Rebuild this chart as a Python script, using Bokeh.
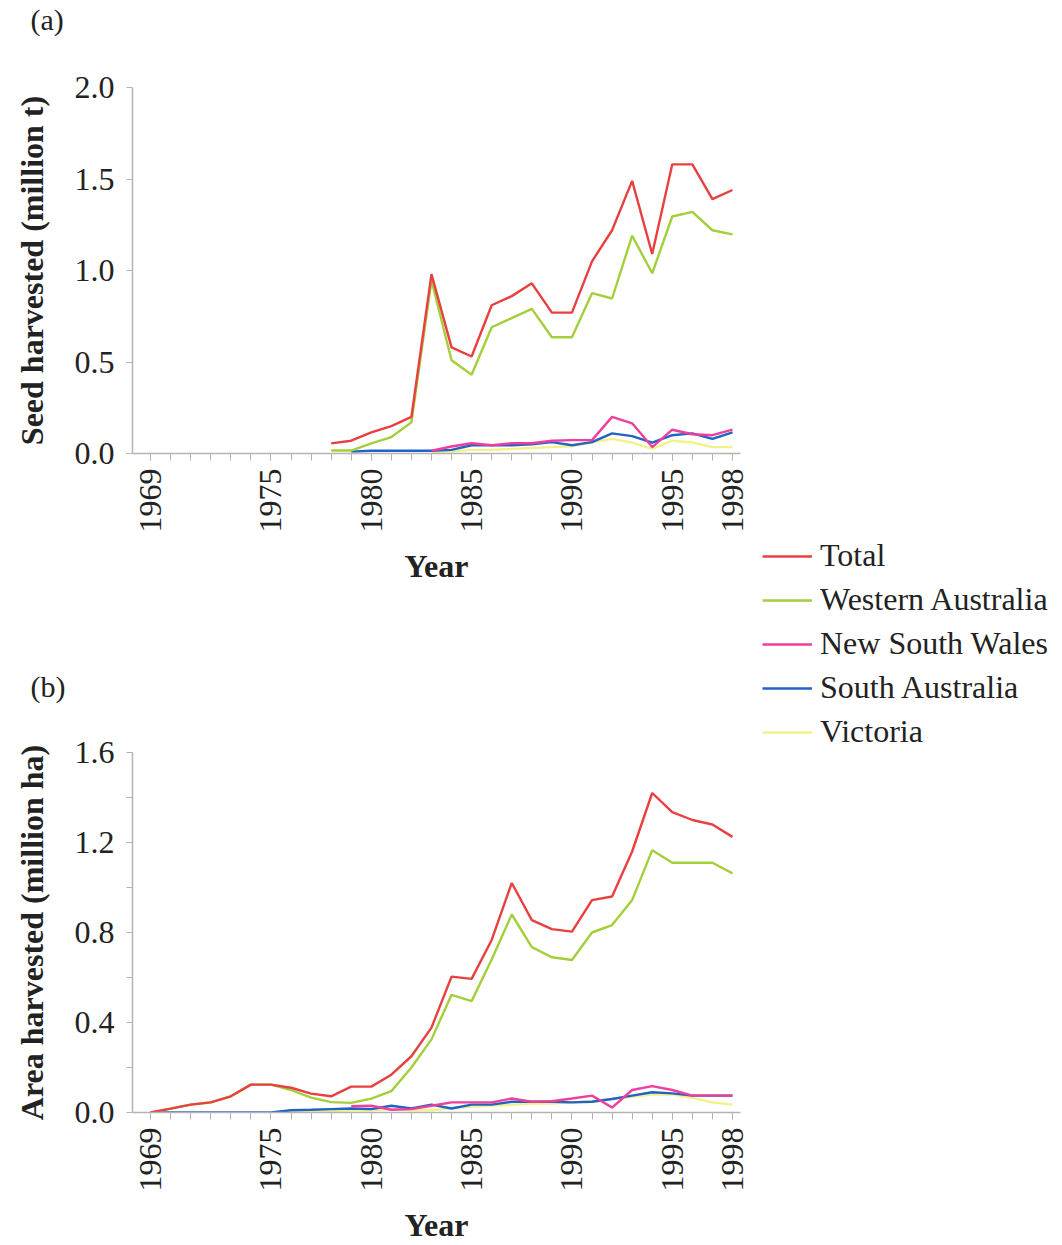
import math
import numpy as np
from bokeh.plotting import figure
from bokeh.layouts import row, column
from bokeh.models import (FixedTicker, PrintfTickFormatter, Legend, LegendItem,
                          ColumnDataSource)
from bokeh.embed import file_html
from bokeh.resources import INLINE

nan = np.nan

# Harvest years
years = list(range(1969, 1999))
year_labels = [1969, 1975, 1980, 1985, 1990, 1995, 1998]

# (a) Seed harvested, million t
seed_total = [nan] * 9 + [0.055, 0.07, 0.115, 0.15, 0.20, 0.98, 0.58, 0.53, 0.81, 0.86, 0.93,
                          0.77, 0.77, 1.05, 1.22, 1.49, 1.09, 1.58, 1.58, 1.39, 1.44]
seed_wa = [nan] * 9 + [0.016, 0.016, 0.055, 0.09, 0.17, 0.945, 0.51, 0.43, 0.69, 0.74, 0.79,
                       0.635, 0.635, 0.876, 0.847, 1.19, 0.985, 1.295, 1.32, 1.22, 1.197]
seed_nsw = [nan] * 14 + [0.015, 0.038, 0.056, 0.045, 0.056, 0.056, 0.07, 0.073, 0.073, 0.2,
                         0.165, 0.035, 0.13, 0.105, 0.1, 0.13]
seed_sa = [nan] * 10 + [0.01, 0.015, 0.015, 0.015, 0.015, 0.02, 0.045, 0.045, 0.045, 0.05,
                        0.062, 0.045, 0.062, 0.11, 0.095, 0.06, 0.1, 0.11, 0.08, 0.116]
seed_vic = [nan] * 14 + [0.005, 0.01, 0.02, 0.02, 0.025, 0.03, 0.035, 0.04, 0.06, 0.08,
                         0.06, 0.025, 0.07, 0.06, 0.035, 0.035]

# (b) Area harvested, million ha
area_total = [0.0, 0.017, 0.035, 0.045, 0.072, 0.124, 0.124, 0.11, 0.084, 0.072, 0.115, 0.115,
              0.168, 0.25, 0.377, 0.604, 0.594, 0.767, 1.02, 0.855, 0.815, 0.804, 0.944, 0.96,
              1.16, 1.42, 1.335, 1.30, 1.28, 1.225]
area_wa = [0.0, 0.017, 0.035, 0.045, 0.072, 0.124, 0.124, 0.10, 0.066, 0.046, 0.043, 0.062,
           0.095, 0.2, 0.325, 0.523, 0.495, 0.68, 0.88, 0.735, 0.69, 0.678, 0.80, 0.833,
           0.944, 1.166, 1.11, 1.11, 1.11, 1.063]
area_nsw = [nan] * 10 + [0.028, 0.03, 0.012, 0.015, 0.03, 0.045, 0.045, 0.045, 0.062, 0.048,
                         0.05, 0.062, 0.075, 0.022, 0.10, 0.117, 0.10, 0.075, 0.075, 0.075]
area_sa = [0.0] * 7 + [0.01, 0.012, 0.015, 0.018, 0.015, 0.03, 0.018, 0.035, 0.018, 0.035,
                       0.035, 0.048, 0.048, 0.048, 0.045, 0.048, 0.06, 0.075, 0.09, 0.085,
                       0.075, 0.075, 0.075]
area_vic = [nan] * 6 + [0.0, 0.005, 0.005, 0.005, 0.01, 0.01, 0.015, 0.01, 0.01, 0.02, 0.025,
                        0.03, 0.035, 0.04, 0.04, 0.045, 0.05, 0.06, 0.07, 0.08, 0.08, 0.065,
                        0.045, 0.035]

series_names = ["Total", "Western Australia", "New South Wales", "South Australia", "Victoria"]
series_colors = ["#e8403f", "#a3cf3b", "#ee3f9c", "#2062c6", "#f2f28a"]

SERIF = "Liberation Serif"
INK = "#222222"
AXIS_GREY = "#b4b4b4"
PANEL_W = 760


def blank_figure(width, height, **kw):
    p = figure(width=width, height=height, x_range=(0, 1), y_range=(0, 1),
               output_backend="svg", toolbar_location=None, **kw)
    p.axis.visible = False
    p.grid.visible = False
    p.outline_line_color = None
    return p


def tag_strip(tag, height, text_bottom):
    # narrow strip whose title carries the panel letter above each chart
    p = blank_figure(PANEL_W, height, min_border_left=132, min_border_right=20,
                     min_border_top=text_bottom, min_border_bottom=0)
    p.title.text = tag
    p.title.align = "left"
    p.title.offset = -102
    p.title.standoff = 0
    p.title.text_font = SERIF
    p.title.text_font_size = "30px"
    p.title.text_font_style = "normal"
    p.title.text_color = INK
    return p


def make_panel(ylabel, y_end, y_major, y_minor, values, height, top, bottom):
    p = figure(width=PANEL_W, height=height, x_range=(1968.1, 1998.4), y_range=(0, y_end),
               output_backend="svg", toolbar_location=None,
               min_border_left=132, min_border_right=20,
               min_border_top=top, min_border_bottom=bottom)

    p.grid.visible = False
    p.outline_line_color = None
    p.background_fill_color = "white"
    p.border_fill_color = "white"

    src = ColumnDataSource(dict(year=years, **{f"s{i}": v for i, v in enumerate(values)}))
    # draw the small states first so the totals sit on top
    for i in reversed(range(len(values))):
        p.line("year", f"s{i}", source=src, line_color=series_colors[i], line_width=2.4)

    xa = p.xaxis[0]
    xa.ticker = FixedTicker(ticks=year_labels, minor_ticks=years)
    xa.major_label_orientation = math.pi / 2
    xa.major_label_standoff = 8
    xa.major_tick_in = 0
    xa.major_tick_out = 7
    xa.minor_tick_in = 0
    xa.minor_tick_out = 7
    xa.axis_label = "Year"
    xa.axis_label_standoff = 12

    ya = p.yaxis[0]
    ya.ticker = FixedTicker(ticks=y_major, minor_ticks=y_minor)
    ya.formatter = PrintfTickFormatter(format="%.1f")
    ya.major_label_orientation = "horizontal"
    ya.major_label_standoff = 12
    ya.major_tick_in = 0
    ya.major_tick_out = 6
    ya.minor_tick_in = 0
    ya.minor_tick_out = 6
    ya.axis_label = ylabel
    ya.axis_label_standoff = 22

    for ax in (xa, ya):
        ax.axis_line_color = AXIS_GREY
        ax.axis_line_width = 1.5
        ax.major_tick_line_color = AXIS_GREY
        ax.minor_tick_line_color = AXIS_GREY
        ax.major_label_text_font = SERIF
        ax.major_label_text_color = INK
        ax.axis_label_text_font = SERIF
        ax.axis_label_text_font_style = "bold"
        ax.axis_label_text_font_size = "32px"
        ax.axis_label_text_color = INK
    xa.major_label_text_font_size = "32px"
    ya.major_label_text_font_size = "32px"
    return p


tag_a = tag_strip("(a)", 45, 34)
fig_a = make_panel("Seed harvested (million t)", 2.0,
                   [0.0, 0.5, 1.0, 1.5, 2.0], [],
                   [seed_total, seed_wa, seed_nsw, seed_sa, seed_vic],
                   height=595, top=42, bottom=187)

tag_b = tag_strip("(b)", 70, 62)
fig_b = make_panel("Area harvested (million ha)", 1.6,
                   [0.0, 0.4, 0.8, 1.2, 1.6], [0.2, 0.6, 1.0, 1.4],
                   [area_total, area_wa, area_nsw, area_sa, area_vic],
                   height=535, top=42, bottom=132)

# Shared legend column to the right of the panels
fig_leg = blank_figure(302, 1245, min_border=0)
items = []
for name, color in zip(series_names, series_colors):
    # stand-in line kept outside the visible range; only its legend swatch shows
    r = fig_leg.line(x=[-5, -4], y=[-5, -5], line_color=color, line_width=2.6)
    items.append(LegendItem(label=name, renderers=[r]))
legend = Legend(items=items, location=(2, 495), orientation="vertical",
                label_text_font=SERIF, label_text_font_size="32px", label_text_color=INK,
                glyph_width=50, glyph_height=32, label_height=32, label_standoff=8,
                spacing=7, padding=0, margin=0,
                border_line_color=None, background_fill_alpha=0)
fig_leg.add_layout(legend)

layout = row(column(tag_a, fig_a, tag_b, fig_b), fig_leg)

with open("out.html", "w") as f:
    f.write(file_html(layout, INLINE))
